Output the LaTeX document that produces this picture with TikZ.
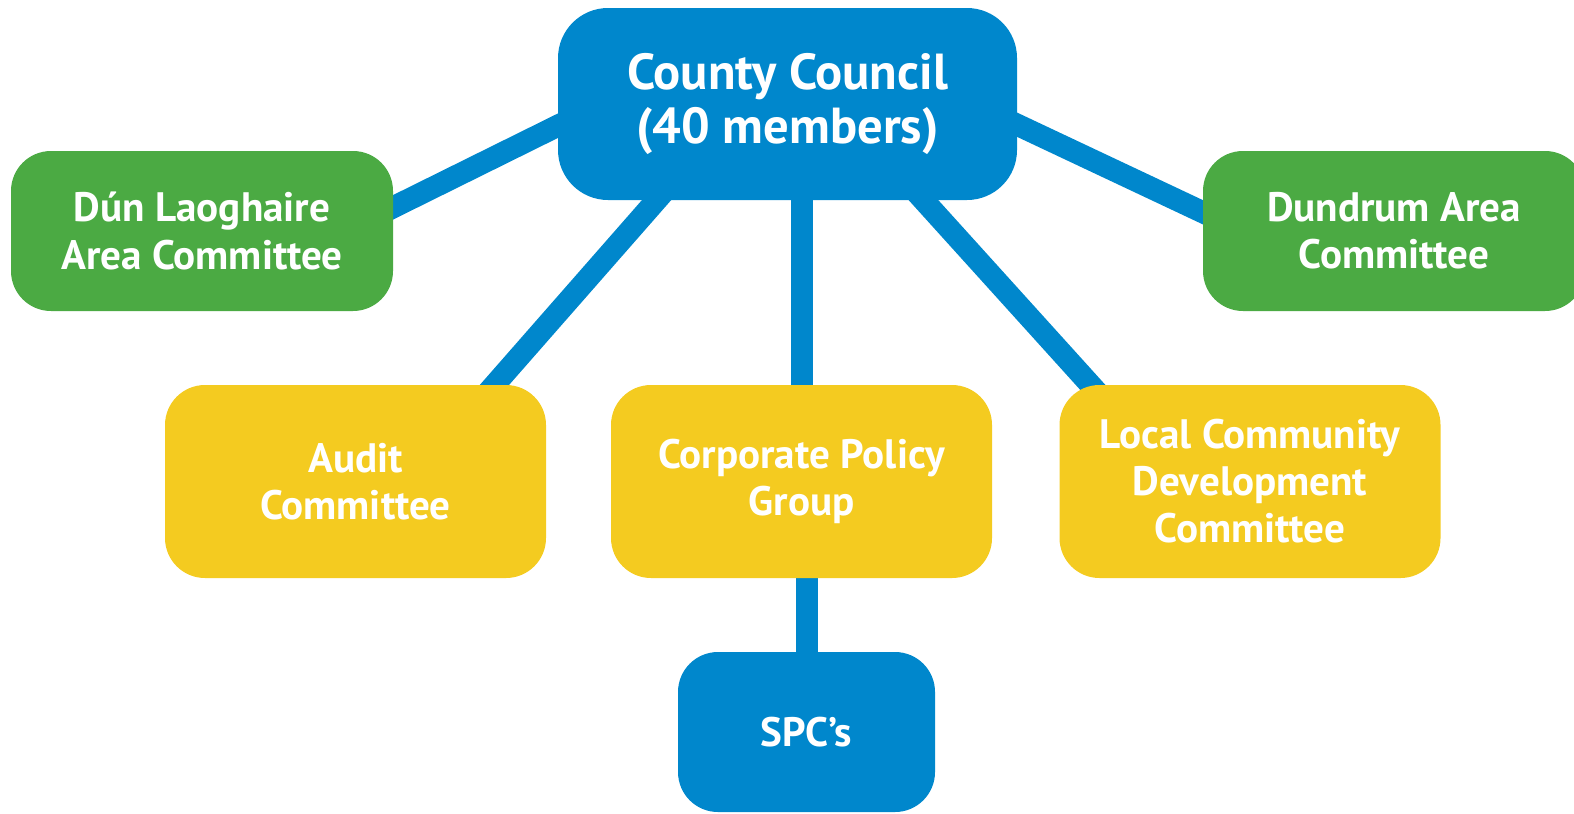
\documentclass[tikz,border=0pt]{standalone}
\usepackage{fontspec}
\setmainfont{PT Sans}
\usetikzlibrary{backgrounds}

\definecolor{councilblue}{RGB}{0,135,204}
\definecolor{areagreen}{RGB}{75,170,67}
\definecolor{cttyellow}{RGB}{244,203,32}

\tikzset{
  box/.style={rounded corners=0.4cm, text=white, align=center,
    font=\bfseries\fontsize{11.7}{13.4}\selectfont, inner sep=0pt},
  link/.style={line width=0.22cm, councilblue, shorten >=-0.15cm, shorten <=-0.15cm}
}

\begin{document}
\begin{tikzpicture}
    % Page area
    \useasboundingbox (0,0) rectangle (15.74,8.13);
    \clip (0,0) rectangle (15.74,8.13);

    % Council at the top
    \node[box, fill=councilblue, rounded corners=0.5cm, minimum width=4.59cm, minimum height=1.92cm,
      font=\bfseries\fontsize{14.4}{15.2}\selectfont] (council) at (7.875,7.09) {County Council\\(40 members)};

    % Area committees
    \node[box, fill=areagreen, minimum width=3.82cm, minimum height=1.60cm] (dunlaoghaire) at (2.02,5.82) {Dún Laoghaire\\Area Committee};
    \node[box, fill=areagreen, minimum width=3.82cm, minimum height=1.60cm] (dundrum) at (13.94,5.82) {Dundrum Area\\Committee};

    % Committees below the council
    \node[box, fill=cttyellow, minimum width=3.81cm, minimum height=1.93cm] (audit) at (3.555,3.315) {Audit\\Committee};
    \node[box, fill=cttyellow, minimum width=3.81cm, minimum height=1.93cm] (cpg) at (8.015,3.315) {Corporate Policy\\Group};
    \node[box, fill=cttyellow, minimum width=3.81cm, minimum height=1.93cm] (lcdc) at (12.50,3.315) {Local Community\\Development\\Committee};

    % SPCs
    \node[box, fill=councilblue, minimum width=2.57cm, minimum height=1.60cm] (spc) at (8.065,0.81) {SPC’s};

    % Links
    \begin{pgfonlayer}{background}
      \draw[link] ([yshift=-0.22cm]council.west) -- ([yshift=0.24cm]dunlaoghaire.east);
      \draw[link] ([yshift=-0.21cm]council.east) -- ([yshift=0.19cm]dundrum.west);
      \draw[link] ([xshift=-1.315cm]council.south) -- ([xshift=1.395cm]audit.north);
      \draw[link] ([xshift=1.365cm]council.south) -- ([xshift=-1.60cm]lcdc.north);
      \draw[link] (cpg.north) -- (cpg.north |- council.south);
      \draw[link] (spc.north) -- (spc.north |- cpg.south);
    \end{pgfonlayer}
\end{tikzpicture}
\end{document}
